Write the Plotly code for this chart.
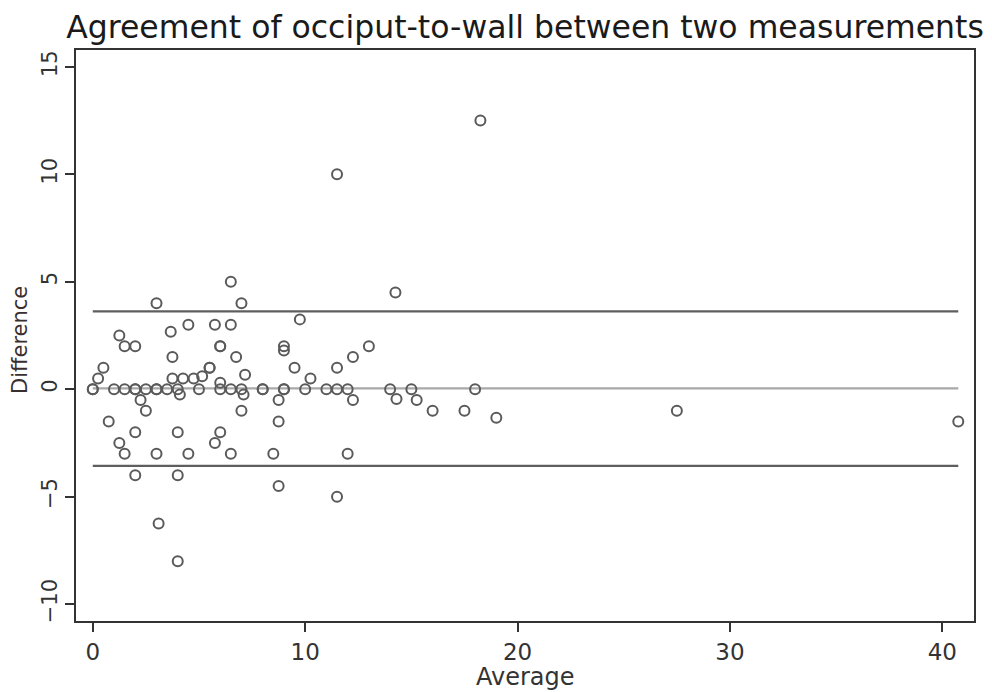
import plotly.graph_objects as go

average = [0, 0, 0.25, 0.5, 0.75, 1, 1.25, 1.25, 1.5, 1.5, 1.5, 2, 2, 2, 2, 2,
           2.25, 2.5, 2.5, 3, 3, 3, 3, 3.1, 3.5, 3.67, 3.75, 3.75, 4, 4.1, 4, 4, 4,
           4.25, 4.5, 4.5, 4.75, 5, 5.15, 5.5, 5.5, 5.75, 5.75, 6, 6, 6, 6, 6,
           6.5, 6.5, 6.5, 6.5, 6.75, 7, 7, 7.1, 7.17, 7, 8, 8, 8.5, 8.75, 8.75, 8.75,
           9, 9, 9, 9, 9.5, 9.75, 10, 10.25, 11, 11.5, 11.5, 11.5, 11.5, 12, 12,
           12.25, 12.25, 13, 14, 14.25, 14.3, 15, 15.25, 16, 17.5, 18, 18.25, 19,
           27.5, 40.75]
difference = [0, 0, 0.5, 1, -1.5, 0, 2.5, -2.5, 2, 0, -3, 2, 0, 0, -2, -4,
              -0.5, 0, -1, 4, 0, 0, -3, -6.25, 0, 2.67, 1.5, 0.5, 0, -0.25, -2, -4, -8,
              0.5, 3, -3, 0.5, 0, 0.6, 1, 1, 3, -2.5, 2, 2, 0.3, 0, -2,
              5, 3, 0, -3, 1.5, 4, 0, -0.25, 0.67, -1, 0, 0, -3, -0.5, -1.5, -4.5,
              2, 1.8, 0, 0, 1, 3.25, 0, 0.5, 0, 10, 1, 0, -5, 0, -3,
              1.5, -0.5, 2, 0, 4.5, -0.45, 0, -0.5, -1, -1, 0, 12.5, -1.33,
              -1, -1.5]

# Mean difference and 95% limits of agreement
mean_diff = 0.04
upper_loa = 3.62
lower_loa = -3.56

x_ticks = [0, 10, 20, 30, 40]
y_ticks = [-10, -5, 0, 5, 10, 15]

title_text = "Agreement of occiput-to-wall between two measurements"
x_title = "Average"
y_title = "Difference"

font = "DejaVu Sans"
xmin, xmax = min(average), max(average)

# page body has an 8px default margin, so the figure is laid out 8px smaller
OFF = 8
W, H = 992 - OFF, 692 - OFF
L, T = 76 - OFF, 50 - OFF
R = W - (974 - OFF)
B = H - (621 - OFF)
PW, PH = W - L - R, H - T - B

fig = go.Figure()
fig.add_trace(go.Scatter(x=[xmin, xmax], y=[upper_loa, upper_loa], mode="lines",
                         line=dict(color="#5e5e5e", width=2.2), hoverinfo="skip"))
fig.add_trace(go.Scatter(x=[xmin, xmax], y=[mean_diff, mean_diff], mode="lines",
                         line=dict(color="#a8a8a8", width=2.2), hoverinfo="skip"))
fig.add_trace(go.Scatter(x=[xmin, xmax], y=[lower_loa, lower_loa], mode="lines",
                         line=dict(color="#5e5e5e", width=2.2), hoverinfo="skip"))
fig.add_trace(go.Scatter(x=average, y=difference, mode="markers",
                         marker=dict(symbol="circle-open", size=10, color="#5a5a5a",
                                     line=dict(width=2, color="#5a5a5a"))))

fig.update_layout(
    width=W, height=H,
    margin=dict(l=L, r=R, t=T, b=B, autoexpand=False),
    paper_bgcolor="white", plot_bgcolor="white",
    showlegend=False,
    title=dict(text=title_text, x=0.5, xref="paper", xanchor="center",
               y=1 - (27 - OFF) / H, yref="container", yanchor="middle",
               font=dict(family=font, size=31.5, color="#1a1a1a")),
    font=dict(family=font, color="#333333"),
    annotations=[
        dict(text=x_title, xref="paper", yref="paper", x=0.5,
             y=-(677 - 621) / PH, xanchor="center", yanchor="middle", showarrow=False,
             font=dict(family=font, size=24, color="#333333")),
        dict(text=y_title, xref="paper", yref="paper", x=-(76 - 20) / PW,
             y=(621 - 340) / PH, xanchor="center", yanchor="middle", showarrow=False,
             textangle=-90, font=dict(family=font, size=21, color="#3a2f2f")),
    ],
)
fig.update_xaxes(
    range=[-0.79, 41.49], tickvals=x_ticks, ticks="outside", ticklen=9,
    tickwidth=1.5, tickcolor="#333333", showgrid=False, zeroline=False,
    showline=True, linecolor="#333333", linewidth=2, mirror=True, automargin=False,
    tickfont=dict(family=font, size=23, color="#333333"),
)
fig.update_yaxes(
    range=[-10.78, 15.78], tickvals=y_ticks, ticks="outside", ticklen=9,
    tickwidth=1.5, tickcolor="#333333", showgrid=False, zeroline=False,
    showline=True, linecolor="#333333", linewidth=2, mirror=True, tickangle=-90,
    automargin=False,
    tickfont=dict(family=font, size=21, color="#333333"),
)

fig.write_html("out.html")
